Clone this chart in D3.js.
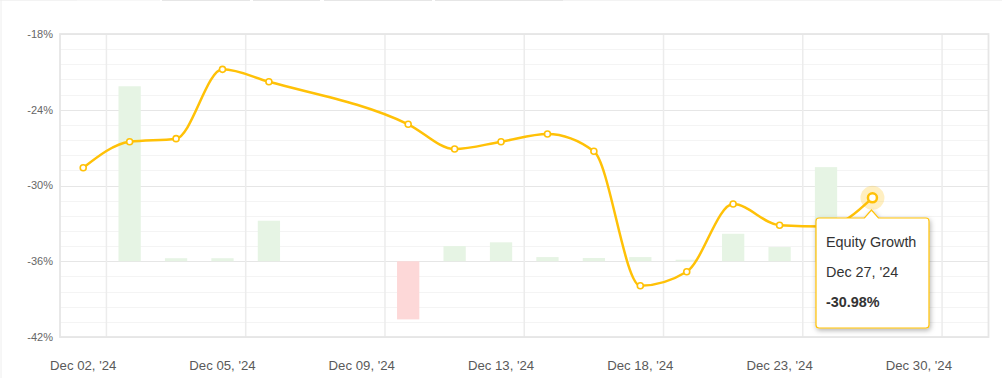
<!DOCTYPE html>
<html><head><meta charset="utf-8">
<script src="https://cdn.jsdelivr.net/npm/d3@7"></script>
<style>
html,body{margin:0;padding:0;background:#fff;}
svg{display:block;font-family:"Liberation Sans",Arial,sans-serif;}
</style></head>
<body><svg id="c" width="1002" height="378"></svg>
<script>
const categories = ["Dec 02, '24","Dec 03, '24","Dec 04, '24","Dec 05, '24","Dec 06, '24","Dec 07, '24","Dec 09, '24","Dec 10, '24","Dec 12, '24","Dec 13, '24","Dec 16, '24","Dec 17, '24","Dec 18, '24","Dec 19, '24","Dec 20, '24","Dec 23, '24","Dec 24, '24","Dec 27, '24","Dec 30, '24","Dec 31, '24"];
const equityGrowth = [-28.59,-26.53,-26.29,-20.80,-21.78,null,null,-25.15,-27.11,-26.53,-25.92,-27.29,-37.94,-36.83,-31.47,-33.15,-33.25,-30.98,null,null];
const dailyBars = [null,9.24,0.16,0.16,2.14,null,null,-3.07,0.80,1.00,0.22,0.17,0.22,0.08,1.45,0.75,4.97,0.3,null,null];
const yTicks = [-18,-24,-30,-36,-42];
const xLabelIdx = [0,3,6,9,12,15,18];
const hoverIdx = 17;
const seriesName = "Equity Growth";

const svg = d3.select("#c");
const L=60, R=988.5, T=34, B=337;
const x = d3.scaleBand().domain(d3.range(categories.length)).range([L,R]).padding(0);
const y = d3.scaleLinear().domain([-42,-18]).range([B,T]);
const yb = d3.scaleLinear().domain([-4,12]).range([B,T]);
const cx = i => x(i)+x.bandwidth()/2;

// top faint tab borders and left border
const tabs=[[0,77,"#f3f3f3"],[77,160,"#f7f7f7"],[162,250,"#e6e6e6"],[253,320,"#e6e6e6"],[324,432,"#e6e6e6"],[435,563,"#e6e6e6"],[563,1002,"#f3f3f3"]];
tabs.forEach(t=>svg.append("line").attr("x1",t[0]).attr("x2",t[1]).attr("y1",0.5).attr("y2",0.5).attr("stroke",t[2]));
svg.append("line").attr("x1",1).attr("x2",1).attr("y1",0).attr("y2",378).attr("stroke","#eeeeee");

// minor horizontal grid
const minor = d3.range(-42,-17.9,1.2);
svg.append("g").selectAll("line").data(minor).join("line")
 .attr("x1",L).attr("x2",R).attr("y1",d=>Math.round(y(d))+0.5).attr("y2",d=>Math.round(y(d))+0.5)
 .attr("stroke","#f4f4f4").attr("stroke-width",1);
// major horizontal grid
svg.append("g").selectAll("line").data(yTicks).join("line")
 .attr("x1",L).attr("x2",R).attr("y1",d=>Math.round(y(d))+0.5).attr("y2",d=>Math.round(y(d))+0.5)
 .attr("stroke","#e6e6e6").attr("stroke-width",1.2);
// vertical grid
svg.append("g").selectAll("line").data(xLabelIdx).join("line")
 .attr("x1",d=>x(d)+x.bandwidth()).attr("x2",d=>x(d)+x.bandwidth()).attr("y1",T).attr("y2",B)
 .attr("stroke","#ececec").attr("stroke-width",1.5);
// plot border
svg.append("rect").attr("x",L).attr("y",T).attr("width",R-L).attr("height",B-T)
 .attr("fill","none").attr("stroke","#e6e6e6").attr("stroke-width",1.8);

// bars
const bw = x.bandwidth()*0.48;
svg.append("g").selectAll("rect").data(dailyBars.map((v,i)=>({v,i})).filter(d=>d.v!==null)).join("rect")
 .attr("x",d=>cx(d.i)-bw/2).attr("width",bw)
 .attr("y",d=>Math.min(yb(d.v),yb(0))).attr("height",d=>Math.abs(yb(d.v)-yb(0)))
 .attr("fill",d=>d.v>=0?"#e6f4e4":"#fdd8d8");

// y axis labels
svg.append("g").selectAll("text").data(yTicks).join("text")
 .attr("x",53).attr("y",d=>y(d)).attr("dy","0.35em").attr("text-anchor","end")
 .attr("font-size",11).attr("fill","#666").text(d=>d+"%");
// x axis labels
svg.append("g").selectAll("text").data(xLabelIdx).join("text")
 .attr("x",d=>cx(d)).attr("y",370).attr("text-anchor","middle")
 .attr("font-size",13.2).attr("fill","#5a5a5a").text(d=>categories[d]);

// line
const pts = equityGrowth.map((v,i)=>({v,i})).filter(d=>d.v!==null);
const line = d3.line().x(d=>cx(d.i)).y(d=>y(d.v)).curve(d3.curveMonotoneX);
svg.append("path").datum(pts).attr("d",line).attr("fill","none")
 .attr("stroke","#FFC107").attr("stroke-width",2.5);
svg.append("g").selectAll("circle").data(pts.filter(d=>d.i!==hoverIdx)).join("circle")
 .attr("cx",d=>cx(d.i)).attr("cy",d=>y(d.v)).attr("r",3).attr("fill","#fff")
 .attr("stroke","#FFC107").attr("stroke-width",1.6);
// hover marker
const hv = equityGrowth[hoverIdx];
svg.append("circle").attr("cx",cx(hoverIdx)).attr("cy",y(hv)).attr("r",12).attr("fill","#FFC107").attr("fill-opacity",0.25);
svg.append("circle").attr("cx",cx(hoverIdx)).attr("cy",y(hv)).attr("r",4.5).attr("fill","#fff")
 .attr("stroke","#FFC107").attr("stroke-width",2.5);

// tooltip
const defs = svg.append("defs");
const f = defs.append("filter").attr("id","sh").attr("x","-20%").attr("y","-20%").attr("width","150%").attr("height","150%");
f.append("feDropShadow").attr("dx",1).attr("dy",2).attr("stdDeviation",2.5).attr("flood-color","#000").attr("flood-opacity",0.3);
const tx=816, ty=218, tw=113, th=110, ax=cx(hoverIdx)-1;
const tipPath = `M${tx+3},${ty} L${ax-7},${ty} L${ax},${ty-8} L${ax+7},${ty} L${tx+tw-3},${ty} Q${tx+tw},${ty} ${tx+tw},${ty+3} L${tx+tw},${ty+th-3} Q${tx+tw},${ty+th} ${tx+tw-3},${ty+th} L${tx+3},${ty+th} Q${tx},${ty+th} ${tx},${ty+th-3} L${tx},${ty+3} Q${tx},${ty} ${tx+3},${ty} Z`;
svg.append("path").attr("d",tipPath).attr("fill","#fff").attr("stroke","#FFC107").attr("stroke-width",1.2).attr("filter","url(#sh)");
const tg = svg.append("g").attr("font-size",14.4).attr("fill","#333");
tg.append("text").attr("x",tx+10).attr("y",247).text(seriesName);
tg.append("text").attr("x",tx+10).attr("y",277).text(categories[hoverIdx]);
tg.append("text").attr("x",tx+10).attr("y",307).attr("font-weight","bold").text(hv.toFixed(2)+"%");
</script></body></html>
